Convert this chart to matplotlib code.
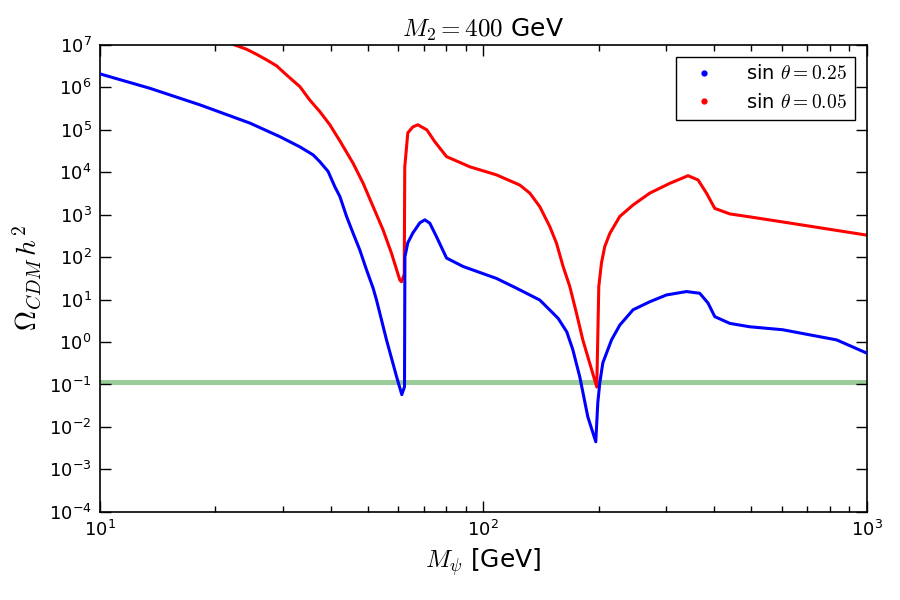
import numpy as np
import matplotlib
matplotlib.use("Agg")
import matplotlib.pyplot as plt
from matplotlib.lines import Line2D

# Relic density (M_psi in GeV, log10 of Omega h^2)
m_blue = [10.0, 13.5, 18.23, 24.61, 29.47, 33.23, 35.99, 37.47, 39.38, 41.0,
          42.26, 43.99, 45.77, 47.63, 49.6, 51.6, 52.66, 55.92, 59.38, 61.3,
          62.3, 62.45, 63.55, 65.5, 68.31, 70.39, 72.54, 75.52, 80.19, 88.6,
          108.2, 122.0, 140.4, 156.7, 165.1, 171.2, 178.5, 187.3, 196.5, 198.9,
          201.3, 205.0, 216.0, 227.0, 245.8, 271.8, 300.5, 338.8, 366.8, 385.6,
          401.5, 439.4, 495.4, 603.9, 835.3, 1000.0]
log_blue = [6.32, 5.98, 5.59, 5.16, 4.84, 4.60, 4.41, 4.25, 4.02, 3.66,
            3.43, 2.96, 2.56, 2.17, 1.70, 1.27, 0.99, 0.05, -0.81, -1.24,
            -1.05, 2.01, 2.34, 2.57, 2.81, 2.88, 2.80, 2.48, 1.98, 1.78,
            1.50, 1.27, 0.99, 0.56, 0.24, -0.18, -0.82, -1.76, -2.35, -1.43,
            -0.96, -0.49, 0.05, 0.40, 0.76, 0.95, 1.11, 1.19, 1.15, 0.92,
            0.60, 0.44, 0.36, 0.29, 0.05, -0.26]

m_red = [22.49, 24.13, 25.63, 27.21, 28.89, 30.37, 31.61, 33.23, 35.29, 37.47,
         39.79, 42.26, 45.77, 48.6, 51.6, 54.79, 57.63, 60.58, 61.19, 62.2,
         62.4, 63.55, 65.5, 67.49, 71.24, 74.75, 80.19, 92.22, 108.2, 124.5,
         132.2, 140.4, 149.1, 155.2, 161.5, 168.1, 175.0, 181.8, 197.7, 199.3,
         200.1, 203.3, 207.4, 213.8, 227.0, 245.8, 271.8, 306.5, 342.0, 363.2,
         382.0, 401.5, 439.4, 495.4, 603.9, 1000.0]
log_red = [7.00, 6.90, 6.78, 6.65, 6.51, 6.33, 6.19, 6.02, 5.70, 5.43,
           5.12, 4.74, 4.21, 3.74, 3.19, 2.64, 2.09, 1.46, 1.42, 1.60,
           4.13, 4.93, 5.07, 5.12, 5.00, 4.72, 4.37, 4.13, 3.94, 3.70,
           3.51, 3.19, 2.72, 2.33, 1.78, 1.31, 0.68, 0.05, -1.06, 0.52,
           1.31, 1.86, 2.25, 2.56, 2.96, 3.23, 3.51, 3.74, 3.92, 3.82,
           3.51, 3.15, 3.02, 2.95, 2.83, 2.52]

labels = [r"sin $\theta = 0.25$", r"sin $\theta = 0.05$"]
colors = ["blue", "red"]
planck_band = (0.099, 0.128)

plt.rcParams["mathtext.fontset"] = "cm"
plt.rcParams["xtick.direction"] = "in"
plt.rcParams["ytick.direction"] = "in"
plt.rcParams["xtick.top"] = True
plt.rcParams["ytick.right"] = True

fig = plt.figure(figsize=(9, 6), dpi=100, facecolor="white")
ax = fig.add_axes([0.111, 0.147, 0.852, 0.778])

ax.axhspan(planck_band[0], planck_band[1], color="#99cc99", lw=0, zorder=1)
ax.plot(m_blue, 10 ** np.array(log_blue), color=colors[0], lw=2.2, zorder=3)
ax.plot(m_red, 10 ** np.array(log_red), color=colors[1], lw=2.2, zorder=2)

ax.set_xscale("log")
ax.set_yscale("log")
ax.set_xlim(10, 1000)
ax.set_ylim(1e-4, 1e7)
ax.set_yticks([10.0 ** k for k in range(-4, 8)])
ax.tick_params(which="major", length=8, width=1, labelsize=13, pad=6)
ax.tick_params(which="minor", length=4, width=1)
for s in ax.spines.values():
    s.set_linewidth(1.2)

ax.set_title(r"$M_2 = 400$ GeV", fontsize=18)
ax.set_xlabel(r"$M_\psi$ [GeV]", fontsize=18)
ax.set_ylabel(r"$\Omega_{CDM}\, h^2$", fontsize=20)

handles = [Line2D([], [], color=c, marker=".", ls="none", ms=7) for c in colors]
leg = ax.legend(handles, labels, loc="upper right", numpoints=1, fontsize=14,
                fancybox=False, framealpha=1, edgecolor="black",
                borderaxespad=0.6, handletextpad=1.2)
leg.get_frame().set_linewidth(1.0)

fig.savefig("out.png", dpi=100, facecolor="white")
